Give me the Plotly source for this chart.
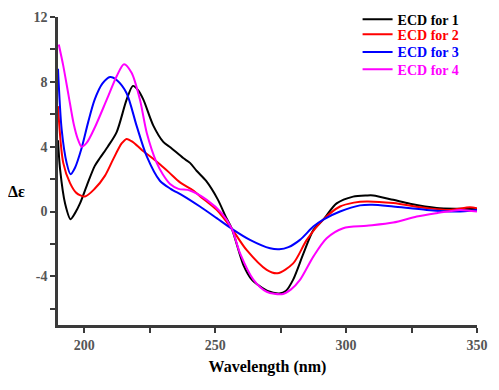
import plotly.graph_objects as go

# ECD for 1 (black)
x1 = [190, 190.8, 192.7, 194.8, 196.5, 198.4, 201, 204, 206, 209, 212.4, 216.2, 218.6, 220.5, 222.6,
      226.4, 230.2, 233, 237.8, 240.4, 243, 246.5, 251, 254, 256.4, 260.8, 264, 267, 270, 274.5,
      277, 279.8, 283.7, 287.5, 291.3, 296.4, 302.7, 307.9, 310.4, 318, 324.4, 334.6, 343.5, 350]
y1 = [4.4, 2.6, 0.5, -0.47, -0.1, 0.5, 1.6, 2.8, 3.3, 4.0, 4.9, 6.9, 7.75, 7.5, 6.9,
      5.3, 4.3, 3.95, 3.3, 3.0, 2.5, 1.9, 0.75, -0.3, -1.07, -3.3, -4.2, -4.6, -4.9, -5.05,
      -4.9, -4.2, -2.6, -1.15, -0.5, 0.5, 0.92, 0.99, 0.99, 0.72, 0.48, 0.22, 0.17, 0.15]

# ECD for 2 (red)
x2 = [190, 192, 194.6, 197, 200.3, 204, 207.9, 211, 214.3, 216.2, 218.5, 222, 226, 229, 232.5,
      236.6, 241.7, 244.2, 250.6, 256.4, 262, 269.7, 273.8, 279.8, 285, 291.3, 297.7, 303,
      307.9, 318, 330.8, 339.7, 347.3, 350]
y2 = [6.5, 3.0, 1.75, 1.15, 0.93, 1.4, 2.2, 3.2, 4.2, 4.48, 4.3, 3.8, 3.3, 2.9, 2.4,
      1.8, 1.3, 0.95, 0.1, -1.07, -2.37, -3.6, -3.81, -3.2, -1.75, -0.5, 0.31, 0.55,
      0.62, 0.52, 0.21, 0.1, 0.27, 0.2]

# ECD for 3 (blue)
x3 = [190, 191.4, 193.3, 194.8, 196.5, 199, 201.5, 204, 207, 209.9, 212.5, 216.2, 220, 223.9,
      228.9, 233, 237.5, 244.2, 250.6, 256.4, 263.3, 271, 274.5, 278, 282.4, 287.5, 291.3,
      297.7, 305.3, 310, 318, 330.8, 342.2, 350]
y3 = [8.8, 5.05, 3.0, 2.3, 2.7, 3.9, 5.5, 6.9, 7.9, 8.3, 8.1, 7.3, 5.3, 3.4,
      1.9, 1.4, 1.0, 0.31, -0.41, -1.07, -1.75, -2.27, -2.33, -2.2, -1.75, -0.93, -0.5,
      0.0, 0.38, 0.42, 0.31, 0.1, 0.0, 0.1]

# ECD for 4 (magenta)
x4 = [190.3, 192, 194, 196, 197.5, 199, 201, 204.1, 208.6, 212.4, 215.2, 218.1, 221.3, 223.9,
      227.7, 230, 232.8, 236, 240.4, 246.8, 252.5, 256.4, 259.5, 264.6, 269.7, 275.5, 279,
      282.4, 287.5, 292.6, 298.9, 307.9, 318, 327, 334.6, 343.5, 350]
y4 = [10.3, 9.0, 7.2, 5.4, 4.5, 4.0, 4.25, 5.2, 6.9, 8.35, 9.09, 8.56, 6.9, 4.85,
      3.0, 2.3, 1.7, 1.4, 1.3, 0.72, -0.1, -1.07, -2.57, -4.2, -4.95, -5.1, -4.8,
      -4.22, -2.78, -1.65, -1.03, -0.88, -0.68, -0.31, -0.1, 0.1, 0.0]

names = ["ECD for 1", "ECD for 2", "ECD for 3", "ECD for 4"]
colors = ["#000000", "#ff0000", "#0000ff", "#ff00ff"]
y_tickvals = [-4, 0, 4, 8, 12]
y_ticktext = ["-4", "0", "4", "8", "12"]
x_tickvals = [200, 250, 300, 350]
x_ticktext = ["200", "250", "300", "350"]

series = [(x1, y1), (x2, y2), (x3, y3), (x4, y4)]
legend_ids = ["legend", "legend2", "legend3", "legend4"]
legend_y = [0.9694, 0.930, 0.884, 0.8385]

fig = go.Figure()
for (xs, ys), nm, c, lid in zip(series, names, colors, legend_ids):
    fig.add_trace(go.Scatter(x=xs, y=ys, mode="lines", name=nm, legend=lid,
                             line=dict(color=c, width=2, shape="spline", smoothing=0.8)))

serif = "Liberation Serif, Times New Roman, serif"
axis_common = dict(showline=True, linecolor="#3a3a3a", linewidth=2.5, showgrid=False,
                   zeroline=False, ticks="outside", ticklen=5, tickwidth=2, tickcolor="#3a3a3a",
                   automargin=False,
                   tickfont=dict(family=serif, size=14, color="#555555", weight="bold"))

fig.update_xaxes(range=[190, 350], tickvals=x_tickvals, ticktext=x_ticktext,
                 minor=dict(dtick=25, tick0=200, ticks="outside", ticklen=5, tickwidth=2,
                            tickcolor="#3a3a3a"),
                 title=dict(text="Wavelength (nm)", standoff=10,
                            font=dict(family=serif, size=16, color="#000000", weight="bold")),
                 **axis_common)
fig.update_yaxes(range=[-7, 12], tickvals=y_tickvals, ticktext=y_ticktext,
                 minor=dict(dtick=2, tick0=0, ticks="outside", ticklen=5, tickwidth=2,
                            tickcolor="#3a3a3a"),
                 **axis_common)

layout_legends = {}
for lid, ly, c in zip(legend_ids, legend_y, colors):
    layout_legends[lid] = dict(x=0.715, y=ly, xanchor="left", yanchor="middle", yref="container",
                               bgcolor="rgba(0,0,0,0)", borderwidth=0, itemwidth=30,
                               font=dict(family=serif, size=14, color=c, weight="bold"))

fig.update_layout(
    width=491, height=382,
    margin=dict(l=50, r=22, t=9, b=65, autoexpand=False),
    plot_bgcolor="white", paper_bgcolor="white",
    showlegend=True,
    annotations=[dict(text="Δε", xref="paper", yref="paper", x=-0.1, y=0.435,
                      xanchor="center", yanchor="middle", showarrow=False,
                      font=dict(family=serif, size=16, color="#000000", weight="bold"))],
    **layout_legends,
)

fig.write_html("out.html")
